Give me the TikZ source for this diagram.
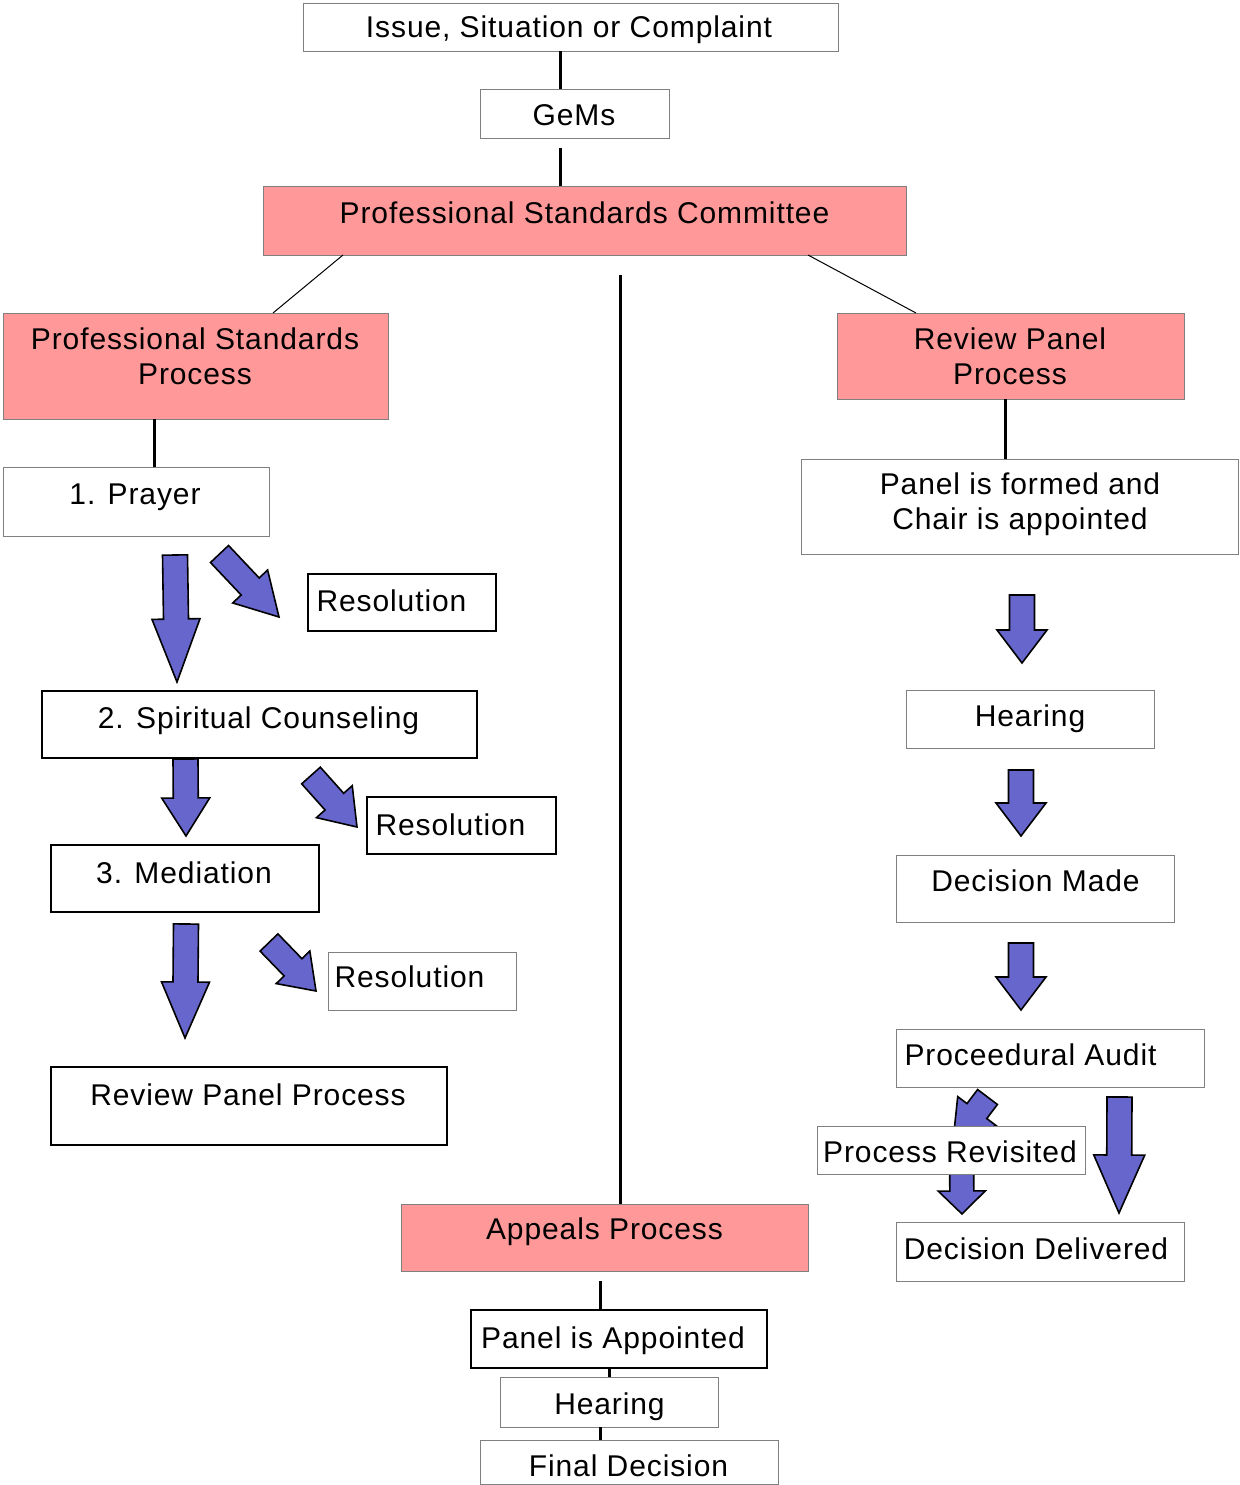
\documentclass[tikz,border=0pt]{standalone}
\usepackage{fontspec}
\setmainfont[LetterSpace=3]{Liberation Sans}
\usetikzlibrary{calc}
\definecolor{pinkbox}{HTML}{FF9999}
\definecolor{arrowblue}{HTML}{6666CC}
\newcommand\drawbox[6]{\node[#2, minimum width={(#5)-(#3)}, minimum height={(#6)-(#4)}] (#1) at ({((#3)+(#5))/2},{((#4)+(#6))/2}) {};}
\newcommand\barrow[6]{%
  \coordinate (#1-t) at (#2); \coordinate (#1-p) at (#3);
  \coordinate (#1-h) at ($(#1-p)!#6!(#1-t)$);
  \draw[blockarr] ($(#1-t)!#4!90:(#1-p)$) -- ($(#1-h)!#4!90:(#1-p)$) -- ($(#1-h)!#5!90:(#1-p)$) -- (#1-p) -- ($(#1-h)!#5!-90:(#1-p)$) -- ($(#1-h)!#4!-90:(#1-p)$) -- ($(#1-t)!#4!-90:(#1-p)$) -- cycle;}
\begin{document}
\begin{tikzpicture}[x=1pt,y=-1pt,
  box/.style={rectangle, draw=black!50, line width=0.9pt, fill=white, inner sep=0pt, outer sep=0pt},
  blackbox/.style={box, draw=black, line width=1.2pt},
  pinkb/.style={box, fill=pinkbox},
  txt/.style={font=\fontsize{30}{35}\selectfont, inner sep=0pt, anchor=base, align=center},
  conn/.style={line width=3pt, black},
  thinconn/.style={line width=1pt, black},
  blockarr/.style={draw=black, line width=1.6pt, fill=arrowblue, line join=miter}]
\useasboundingbox (0,0) rectangle (1239,1485);

% boxes
\drawbox{issue}{box}{303}{3}{838}{51}
\drawbox{gems}{box}{480}{89}{669}{138}
\drawbox{psc}{pinkb}{263}{186}{906}{255}
\drawbox{psp}{pinkb}{3}{313}{388}{419}
\drawbox{rpp}{pinkb}{837}{313}{1184}{399}
\drawbox{panel}{box}{801}{459}{1238}{554}
\drawbox{prayer}{box}{3}{467}{269}{536}
\drawbox{res1}{blackbox}{308}{574}{496}{631}
\drawbox{spirit}{blackbox}{42}{691}{477}{758}
\drawbox{res2}{blackbox}{367}{797}{556}{854}
\drawbox{medi}{blackbox}{51}{845}{319}{912}
\drawbox{res3}{box}{328}{952}{516}{1010}
\drawbox{rppl}{blackbox}{51}{1067}{447}{1145}
\drawbox{appeals}{pinkb}{401}{1204}{808}{1271}
\drawbox{pappt}{blackbox}{471}{1310}{767}{1368}
\drawbox{hear2}{box}{500}{1377}{718}{1427}
\drawbox{final}{box}{480}{1440}{778}{1484}
\drawbox{hear1}{box}{906}{690}{1154}{748}
\drawbox{dmade}{box}{896}{855}{1174}{922}
\drawbox{audit}{box}{896}{1029}{1204}{1087}
\drawbox{deliv}{box}{896}{1222}{1184}{1281}

% arrows behind the Process Revisited box
\barrow{a9}{987.5,1097}{952.8,1143}{12.4pt}{24pt}{40pt}
\barrow{a10}{961.5,1150}{962,1214}{12pt}{23.5pt}{23pt}
\drawbox{revis}{box}{817}{1126}{1085}{1174}

% block arrows
\barrow{a1}{175,555}{177,682}{12.5pt}{24pt}{63pt}
\barrow{a2}{219.5,554}{279,617}{12.4pt}{24pt}{42pt}
\barrow{a3}{185.5,759}{186,836}{12.5pt}{24pt}{38pt}
\barrow{a4}{311,775.5}{357,827}{12.5pt}{24pt}{34pt}
\barrow{a11}{186,924}{185,1038}{12.5pt}{24pt}{56pt}
\barrow{a12}{269,942.5}{316,991}{12.4pt}{23.4pt}{33pt}
\barrow{a5}{1022,595}{1022,663}{12.5pt}{25pt}{33pt}
\barrow{a6}{1021,770}{1021,836}{12.5pt}{25pt}{33pt}
\barrow{a7}{1021,943}{1021,1010}{12.5pt}{25pt}{33pt}
\barrow{a8}{1119.5,1097}{1119,1213}{12.5pt}{25.5pt}{58pt}

% connectors
\coordinate (x560) at (560,0);
\coordinate (x620) at (620,0);
\coordinate (x154) at (154,0);
\coordinate (x1005) at (1005,0);
\coordinate (x600) at (600,0);
\coordinate (x609) at (609,0);
\draw[conn] (issue.south -| x560) -- (gems.north -| x560);
\draw[conn, shorten <=10pt] (gems.south -| x560) -- (psc.north -| x560);
\draw[thinconn] ($(psc.south west)+(80,0)$) -- ($(psp.north west)+(270,0)$);
\draw[thinconn] ($(psc.south east)+(-98,0)$) -- ($(rpp.north west)+(79,0)$);
\draw[conn, shorten <=20pt] (psc.south -| x620) -- (appeals.north -| x620);
\draw[conn] (psp.south -| x154) -- (prayer.north -| x154);
\draw[conn] (rpp.south -| x1005) -- (panel.north -| x1005);
\draw[conn, shorten <=10pt] (appeals.south -| x600) -- (pappt.north -| x600);
\draw[conn] (pappt.south -| x609) -- (hear2.north -| x609);
\draw[conn] (hear2.south -| x600) -- (final.north -| x600);

% texts
\node[txt] (t-issue) at (569,38) {Issue, Situation or Complaint};
\node[txt] (t-gems) at (574,125) {GeMs};
\node[txt] (t-psc) at (584.5,223) {Professional Standards Committee};
\node[txt] (t-psp) at (195,384) {Professional Standards\\Process};
\node[txt] (t-rpp) at (1010,384) {Review Panel\\Process};
\node[txt] (t-panel) at (1020,529) {Panel is formed and\\Chair is appointed};
\node[txt] (t-prayer) at (135,504) {1. Prayer};
\node[txt] (t-res1) at (391.5,611) {Resolution};
\node[txt] (t-spirit) at (258.5,728) {2. Spiritual Counseling};
\node[txt] (t-res2) at (450.5,835) {Resolution};
\node[txt] (t-medi) at (184,883) {3. Mediation};
\node[txt] (t-res3) at (409.5,987) {Resolution};
\node[txt] (t-rppl) at (248,1105) {Review Panel Process};
\node[txt] (t-appeals) at (604.5,1239) {Appeals Process};
\node[txt] (t-pappt) at (613,1348) {Panel is Appointed};
\node[txt] (t-hear2) at (609.5,1414) {Hearing};
\node[txt] (t-final) at (628.5,1476) {Final Decision};
\node[txt] (t-hear1) at (1030,726) {Hearing};
\node[txt] (t-dmade) at (1035.5,891) {Decision Made};
\node[txt] (t-audit) at (1030.5,1065) {Proceedural Audit};
\node[txt] (t-revis) at (950,1162) {Process Revisited};
\node[txt] (t-deliv) at (1036,1259) {Decision Delivered};
\end{tikzpicture}
\end{document}
